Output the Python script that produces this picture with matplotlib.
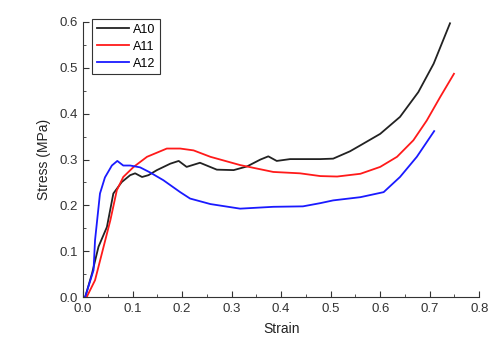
import matplotlib.pyplot as plt
from matplotlib.ticker import MultipleLocator

plt.rcParams['font.family'] = ['Liberation Sans', 'DejaVu Sans']

# A10 (black)
strain_a10 = [0.0, 0.004, 0.018, 0.031, 0.048, 0.061, 0.078, 0.095, 0.105, 0.119, 0.132,
              0.149, 0.176, 0.193, 0.209, 0.236, 0.270, 0.304, 0.331, 0.358, 0.374,
              0.391, 0.418, 0.479, 0.505, 0.539, 0.560, 0.600, 0.640, 0.677, 0.708, 0.741]
stress_a10 = [0.0, 0.0, 0.052, 0.110, 0.153, 0.226, 0.251, 0.266, 0.270, 0.262, 0.266,
              0.277, 0.291, 0.297, 0.284, 0.293, 0.278, 0.277, 0.285, 0.300, 0.307,
              0.297, 0.301, 0.301, 0.302, 0.318, 0.331, 0.356, 0.393, 0.447, 0.509, 0.597]

# A11 (red)
strain_a11 = [0.0, 0.007, 0.024, 0.038, 0.055, 0.068, 0.081, 0.102, 0.129, 0.169, 0.196,
              0.223, 0.257, 0.317, 0.384, 0.438, 0.479, 0.513, 0.560, 0.600, 0.634,
              0.667, 0.694, 0.721, 0.749]
stress_a11 = [0.0, 0.0, 0.037, 0.096, 0.168, 0.233, 0.262, 0.284, 0.306, 0.324, 0.324,
              0.320, 0.306, 0.288, 0.273, 0.270, 0.264, 0.263, 0.269, 0.284, 0.306,
              0.342, 0.385, 0.436, 0.487]

# A12 (blue)
strain_a12 = [0.0, 0.004, 0.021, 0.024, 0.034, 0.044, 0.058, 0.069, 0.081, 0.095, 0.115,
              0.135, 0.162, 0.196, 0.216, 0.257, 0.317, 0.384, 0.444, 0.479, 0.505,
              0.560, 0.607, 0.640, 0.674, 0.709]
stress_a12 = [0.0, 0.0, 0.059, 0.124, 0.226, 0.261, 0.287, 0.297, 0.287, 0.287, 0.283,
              0.272, 0.255, 0.229, 0.215, 0.203, 0.193, 0.197, 0.198, 0.205, 0.211,
              0.218, 0.229, 0.262, 0.306, 0.362]

fig = plt.figure(figsize=(4.92, 3.48), dpi=100)
ax = fig.add_axes([0.169, 0.146, 0.805, 0.791])

ax.plot(strain_a10, stress_a10, color='#222222', lw=1.3, label='A10')
ax.plot(strain_a11, stress_a11, color='#ff1a1a', lw=1.3, label='A11')
ax.plot(strain_a12, stress_a12, color='#1a1aff', lw=1.3, label='A12')

ax.set_xlim(0, 0.8)
ax.set_ylim(0, 0.6)
ax.xaxis.set_major_locator(MultipleLocator(0.1))
ax.xaxis.set_minor_locator(MultipleLocator(0.05))
ax.yaxis.set_major_locator(MultipleLocator(0.1))
ax.yaxis.set_minor_locator(MultipleLocator(0.05))
ax.tick_params(which='both', direction='in', labelsize=9.5, colors='#333333')
ax.tick_params(which='major', length=4, pad=4)
ax.tick_params(which='minor', length=2)
ax.spines['top'].set_visible(False)
ax.spines['right'].set_visible(False)
for s in ['left', 'bottom']:
    ax.spines[s].set_color('#333333')

ax.set_xlabel('Strain', fontsize=10, color='#222222', labelpad=5)
ax.set_ylabel('Stress (MPa)', fontsize=10, color='#222222', labelpad=6)

leg = ax.legend(loc='upper left', bbox_to_anchor=(0.023, 1.01), fontsize=9,
                handlelength=2.6, handletextpad=0.3, borderpad=0.35,
                labelspacing=0.4, fancybox=False, framealpha=1, borderaxespad=0)
leg.get_frame().set_edgecolor('#333333')
leg.get_frame().set_linewidth(0.8)

fig.savefig('out.png', dpi=100)
